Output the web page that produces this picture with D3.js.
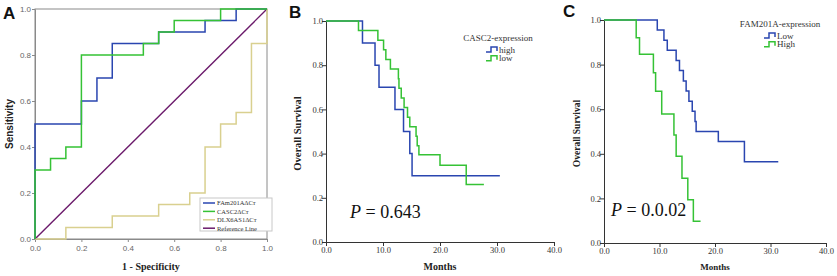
<!DOCTYPE html>
<html>
<head>
<meta charset="utf-8">
<script src="https://cdn.jsdelivr.net/npm/d3@7"></script>
<style>
  body { margin: 0; background: #fff; }
  svg { display: block; }
</style>
</head>
<body>
<div id="graf"></div>
<script>
// Curvas ROC (panel A) y Kaplan-Meier (paneles B y C)

// --- datos ---
const rocTicks = [0, 0.2, 0.4, 0.6, 0.8, 1.0]
const famFpr  = [0, 0, 0.2, 0.267, 0.333, 0.533, 0.733, 0.867, 1]
const famTpr  = [0, 0.5, 0.6, 0.7, 0.85, 0.9, 0.95, 1.0, 1.0]
const cascFpr = [0, 0, 0.067, 0.133, 0.2, 0.467, 0.533, 0.6, 0.8, 1]
const cascTpr = [0, 0.3, 0.35, 0.4, 0.8, 0.85, 0.9, 0.95, 1.0, 1.0]
const dlxFpr  = [0, 0.133, 0.333, 0.533, 0.667, 0.733, 0.8, 0.867, 0.933, 1]
const dlxTpr  = [0, 0.05, 0.1, 0.15, 0.2, 0.4, 0.5, 0.55, 0.85, 1.0]
const rocNames = ['FAm201AΔCт', 'CASC2ΔCт', 'DLX6AS1ΔCт', 'Reference Line']

const monthTicks = [0, 10, 20, 30, 40]
const survTicks = [0, 0.2, 0.4, 0.6, 0.8, 1.0]

const cascHighT = [0, 6.4, 8.6, 9.3, 12.1, 13.6, 14.7, 15.1, 30.5]
const cascHighS = [1, 0.9, 0.8, 0.7, 0.6, 0.5, 0.4, 0.3, 0.3]
const cascLowT  = [0, 5.7, 9.1, 10.1, 10.5, 11.3, 12.7, 12.8, 13.2, 13.7, 14.3, 14.7, 15.8, 16.0, 16.3, 20.0, 24.6, 27.7]
const cascLowS  = [1, 0.957, 0.913, 0.87, 0.826, 0.783, 0.739, 0.696, 0.652, 0.609, 0.565, 0.522, 0.478, 0.435, 0.395, 0.347, 0.26, 0.26]

const famLowT  = [0, 9.6, 10.8, 11.4, 13.0, 13.6, 14.3, 14.8, 15.3, 15.9, 16.4, 16.6, 20.6, 25.3, 31.4]
const famLowS  = [1, 0.955, 0.909, 0.864, 0.818, 0.773, 0.727, 0.682, 0.636, 0.591, 0.545, 0.5, 0.455, 0.364, 0.364]
const famHighT = [0, 5.8, 6.4, 8.9, 9.3, 10.4, 12.6, 13.0, 14.05, 15.1, 16.1, 17.4]
const famHighS = [1, 0.92, 0.846, 0.763, 0.681, 0.579, 0.484, 0.389, 0.29, 0.194, 0.097, 0.097]

const azul = '#2a46b0', verde = '#35c235', beige = '#d9d08f', morado = '#6b1a6b'

svg = d3.select('#graf').append('svg')
        .attr('width', 837)
        .attr('height', 276)
        .style('background', '#fff')

const zip = (a, b) => a.map((v, i) => [v, b[i]])

// ===== Panel A =====
xA = d3.scaleLinear().domain([0, 1]).range([35, 267])
yA = d3.scaleLinear().domain([0, 1]).range([239, 9])

svg.append('rect')
   .attr('x', xA(0)).attr('y', yA(1))
   .attr('width', xA(1) - xA(0)).attr('height', yA(0) - yA(1))
   .attr('fill', 'none').attr('stroke', '#8a8a8a').attr('stroke-width', 1)

axA_y = svg.append('g').attr('transform', `translate(${xA(0)},0)`)
           .call(d3.axisLeft(yA).tickValues(rocTicks).tickFormat(d3.format('.1f')).tickSize(3).tickSizeOuter(0))
axA_x = svg.append('g').attr('transform', `translate(0,${yA(0)})`)
           .call(d3.axisBottom(xA).tickValues(rocTicks).tickFormat(d3.format('.1f')).tickSize(3).tickSizeOuter(0))
;[axA_y, axA_x].forEach(a => {
  a.select('.domain').attr('stroke', '#8a8a8a')
  a.selectAll('.tick line').attr('stroke', '#8a8a8a')
  a.selectAll('text').attr('fill', '#666').style('font', '8px Arial, "Liberation Sans", sans-serif')
})
axA_y.selectAll('text').attr('x', -4)

lineA = d3.line().x(d => xA(d[0])).y(d => yA(d[1]))
lineStep = d3.line().x(d => xA(d[0])).y(d => yA(d[1])).curve(d3.curveStepAfter)

svg.append('path').attr('d', lineA([[0, 0], [1, 1]]))
   .attr('fill', 'none').attr('stroke', morado).attr('stroke-width', 1.4)
svg.append('path').attr('d', lineStep(zip(dlxFpr, dlxTpr)))
   .attr('fill', 'none').attr('stroke', beige).attr('stroke-width', 1.5)
svg.append('path').attr('d', lineStep(zip(famFpr, famTpr)))
   .attr('fill', 'none').attr('stroke', azul).attr('stroke-width', 1.5)
svg.append('path').attr('d', lineStep(zip(cascFpr, cascTpr)))
   .attr('fill', 'none').attr('stroke', verde).attr('stroke-width', 1.5)

// leyenda A
legA = svg.append('g').attr('transform', 'translate(203,203)')
legA.append('rect').attr('x', -3).attr('y', -5).attr('width', 72).attr('height', 33)
    .attr('fill', '#fff').attr('stroke', '#c8c8c8')
;[azul, verde, beige, morado].forEach((c, i) => {
  legA.append('line').attr('x1', 0).attr('x2', 12).attr('y1', i * 8.4).attr('y2', i * 8.4)
      .attr('stroke', c).attr('stroke-width', 1.5)
  legA.append('text').attr('x', 14).attr('y', i * 8.4 + 2.3).text(rocNames[i])
      .attr('fill', '#333').style('font', '6.5px "Liberation Serif", "Times New Roman", serif')
})

svg.append('text').attr('x', 151).attr('y', 270).attr('text-anchor', 'middle').text('1 - Specificity')
   .style('font', 'bold 10px "Liberation Serif", "Times New Roman", serif').attr('fill', '#222')
svg.append('text').attr('transform', 'translate(13,124) rotate(-90)').attr('text-anchor', 'middle').text('Sensitivity')
   .style('font', 'bold 10px Arial, "Liberation Sans", sans-serif').attr('fill', '#222')

// ===== Paneles KM =====
function panelKM(opt) {
  x = d3.scaleLinear().domain([0, 40]).range([opt.x0, opt.x1])
  y = d3.scaleLinear().domain([0, 1]).range([opt.y0, opt.y1])

  ay = svg.append('g').attr('transform', `translate(${opt.x0},0)`)
          .call(d3.axisLeft(y).tickValues(survTicks).tickFormat(d3.format('.1f')).tickSize(4).tickSizeOuter(0))
  ax = svg.append('g').attr('transform', `translate(0,${opt.y0})`)
          .call(d3.axisBottom(x).tickValues(monthTicks).tickFormat(d3.format('.1f')).tickSize(4).tickSizeOuter(0))
  ;[ay, ax].forEach(a => {
    a.select('.domain').attr('stroke', '#333')
    a.selectAll('.tick line').attr('stroke', '#333')
    a.selectAll('text').attr('fill', '#333').style('font', '8.5px "Liberation Serif", "Times New Roman", serif')
  })
  ay.selectAll('text').attr('x', -3)
  ax.selectAll('text').attr('y', 5)

  km = d3.line().x(d => x(d[0])).y(d => y(d[1])).curve(d3.curveStepAfter)
  opt.series.forEach(s => {
    svg.append('path').attr('d', km(zip(s.t, s.s)))
       .attr('fill', 'none').attr('stroke', s.color).attr('stroke-width', 1.5)
  })

  // leyenda
  svg.append('text').attr('x', opt.legX).attr('y', opt.legY).attr('text-anchor', 'middle').text(opt.legTitle)
     .attr('fill', '#333').style('font', '9px "Liberation Serif", "Times New Roman", serif')
  opt.series.forEach((s, i) => {
    yy = opt.legY + 10 + i * 8.8
    ix = opt.iconX
    svg.append('path')
       .attr('d', `M${ix},${yy + 1} H${ix + 5} V${yy - 4} H${ix + 11} V${yy}`)
       .attr('fill', 'none').attr('stroke', s.color).attr('stroke-width', 1.5)
    svg.append('text').attr('x', ix + 13).attr('y', yy + 1.5).text(s.name)
       .attr('fill', '#333').style('font', '9px "Liberation Serif", "Times New Roman", serif')
  })

  // titulos
  svg.append('text').attr('x', (opt.x0 + opt.x1) / 2).attr('y', 270).attr('text-anchor', 'middle').text('Months')
     .style('font', `bold ${opt.titleSize}px "Liberation Serif", "Times New Roman", serif`).attr('fill', '#222')
  svg.append('text').attr('transform', `translate(${opt.ytX},${(opt.y0 + opt.y1) / 2 + 2}) rotate(-90)`)
     .attr('text-anchor', 'middle').text('Overall Survival')
     .style('font', `bold ${opt.titleSize + 0.5}px "Liberation Serif", "Times New Roman", serif`).attr('fill', '#222')

  // valor P
  pt = svg.append('text').attr('x', opt.pX).attr('y', opt.pY)
          .style('font', '18px "Liberation Serif", "Times New Roman", serif').attr('fill', '#111')
  pt.append('tspan').text('P').style('font-style', 'italic')
  pt.append('tspan').text(' = ' + opt.p)
}

panelKM({
  x0: 326, x1: 554, y0: 242, y1: 21,
  series: [
    { name: 'high', t: cascHighT, s: cascHighS, color: azul },
    { name: 'low',  t: cascLowT,  s: cascLowS,  color: verde }
  ],
  legTitle: 'CASC2-expression', legX: 498, legY: 41, iconX: 486,
  titleSize: 10, ytX: 301, pX: 350, pY: 218, p: '0.643'
})

panelKM({
  x0: 604, x1: 826, y0: 243, y1: 20,
  series: [
    { name: 'Low',  t: famLowT,  s: famLowS,  color: azul },
    { name: 'High', t: famHighT, s: famHighS, color: verde }
  ],
  legTitle: 'FAM201A-expression', legX: 780, legY: 27, iconX: 764,
  titleSize: 9, ytX: 580, pX: 611, pY: 216, p: '0.0.02'
})

// letras de panel
;[['A', 3, 19], ['B', 289, 18], ['C', 563, 17]].forEach(l => {
  svg.append('text').attr('x', l[1]).attr('y', l[2]).text(l[0])
     .style('font', 'bold 17px Arial, "Liberation Sans", sans-serif').attr('fill', '#111')
})
</script>
</body>
</html>
